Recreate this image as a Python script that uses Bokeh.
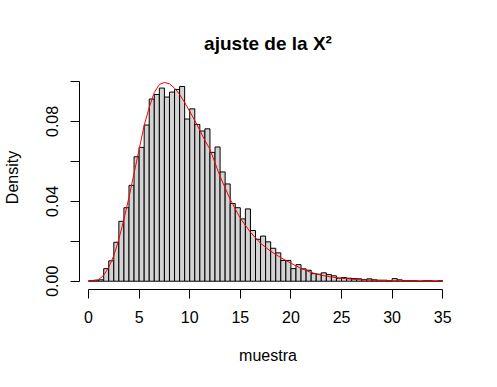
import numpy as np
from bokeh.plotting import figure
from bokeh.models import Range1d, FixedTicker, PrintfTickFormatter
from bokeh.embed import file_html
from bokeh.resources import INLINE

# histogram breaks (width 0.5 from 0 to 35) and densities
breaks = np.arange(0, 35.5, 0.5)
density = [
    0.0002, 0.0005, 0.0007, 0.0063, 0.0102, 0.0195, 0.0300, 0.0368, 0.0480, 0.0623,
    0.0670, 0.0782, 0.0912, 0.0935, 0.0967, 0.0922, 0.0947, 0.0960, 0.0975, 0.0812,
    0.0863, 0.0785, 0.0752, 0.0763, 0.0645, 0.0672, 0.0547, 0.0487, 0.0389, 0.0368,
    0.0312, 0.0362, 0.0254, 0.0210, 0.0226, 0.0197, 0.0165, 0.0142, 0.0104, 0.0104,
    0.0063, 0.0083, 0.0062, 0.0055, 0.0038, 0.0035, 0.0042, 0.0033, 0.0027, 0.0015,
    0.0018, 0.0015, 0.0013, 0.0012, 0.0008, 0.0012, 0.0007, 0.0005, 0.0005, 0.0002,
    0.0013, 0.0007, 0.0002, 0.0002, 0.0002, 0.0000, 0.0002, 0.0002, 0.0000, 0.0002,
]

# fitted chi-square density curve
curve_x = [0, 0.5, 1, 1.5, 2, 2.5, 3, 3.5, 4, 4.5, 5, 5.5, 6, 6.5, 7, 7.5, 8, 8.5,
           9, 9.5, 10, 10.5, 11, 11.5, 12, 13, 14, 15, 16, 17, 18, 19, 20, 21, 22,
           23, 24, 25, 26, 27, 28, 30, 32, 35]
curve_y = [0, 0.0002, 0.0008, 0.003, 0.007, 0.0128, 0.021, 0.031, 0.042, 0.054,
           0.066, 0.078, 0.087, 0.0945, 0.0985, 0.0995, 0.0988, 0.0967, 0.0935,
           0.0895, 0.085, 0.0805, 0.0755, 0.0705, 0.066, 0.0525, 0.041, 0.0315,
           0.0245, 0.019, 0.015, 0.0118, 0.009, 0.0064, 0.0044, 0.003, 0.0021,
           0.0015, 0.001, 0.0007, 0.0005, 0.0002, 0.0001, 0.00003]

x_ticks = [0, 5, 10, 15, 20, 25, 30, 35]
y_ticks_labeled = [0.0, 0.04, 0.08]
y_ticks_minor = [0.02, 0.06, 0.10]

FONT = "Liberation Sans"

p = figure(width=497, height=387, output_backend="svg", toolbar_location=None,
           x_range=Range1d(-0.89, 36.36), y_range=Range1d(-0.00415, 0.108),
           min_border_left=78, min_border_right=41, min_border_top=65,
           min_border_bottom=98, title="ajuste de la X²")
p.outline_line_color = None
p.xgrid.visible = False
p.ygrid.visible = False
p.background_fill_color = "white"
p.border_fill_color = "white"

p.title.align = "center"
p.title.text_font = FONT
p.title.text_font_size = "19px"
p.title.text_font_style = "bold"
p.title.text_color = "black"
p.title.standoff = 23

p.quad(left=breaks[:-1], right=breaks[1:], top=density, bottom=0,
       fill_color="#D3D3D3", line_color="black", line_width=1)
p.line(curve_x, curve_y, line_color="red", line_width=1)

for ax in (p.xaxis[0], p.yaxis[0]):
    ax.major_tick_out = 9
    ax.major_tick_in = 0
    ax.major_tick_line_color = "black"
    ax.axis_line_color = "black"
    ax.major_label_text_font = FONT
    ax.major_label_text_font_size = "16px"
    ax.major_label_text_color = "black"
    ax.axis_label_text_font = FONT
    ax.axis_label_text_font_size = "16px"
    ax.axis_label_text_font_style = "normal"
    ax.axis_label_text_color = "black"

xa = p.xaxis[0]
xa.ticker = FixedTicker(ticks=x_ticks)
xa.bounds = (0, 35)
xa.minor_tick_out = 0
xa.minor_tick_in = 0
xa.major_label_standoff = 12
xa.axis_label = "muestra"
xa.axis_label_standoff = 21

ya = p.yaxis[0]
ya.ticker = FixedTicker(ticks=y_ticks_labeled, minor_ticks=y_ticks_minor)
ya.formatter = PrintfTickFormatter(format="%.2f")
ya.bounds = (0, 0.1)
ya.minor_tick_out = 9
ya.minor_tick_in = 0
ya.minor_tick_line_color = "black"
ya.major_label_orientation = "vertical"
ya.major_label_standoff = 12
ya.axis_label = "Density"
ya.axis_label_standoff = 23

open("out.html", "w").write(file_html(p, INLINE))
